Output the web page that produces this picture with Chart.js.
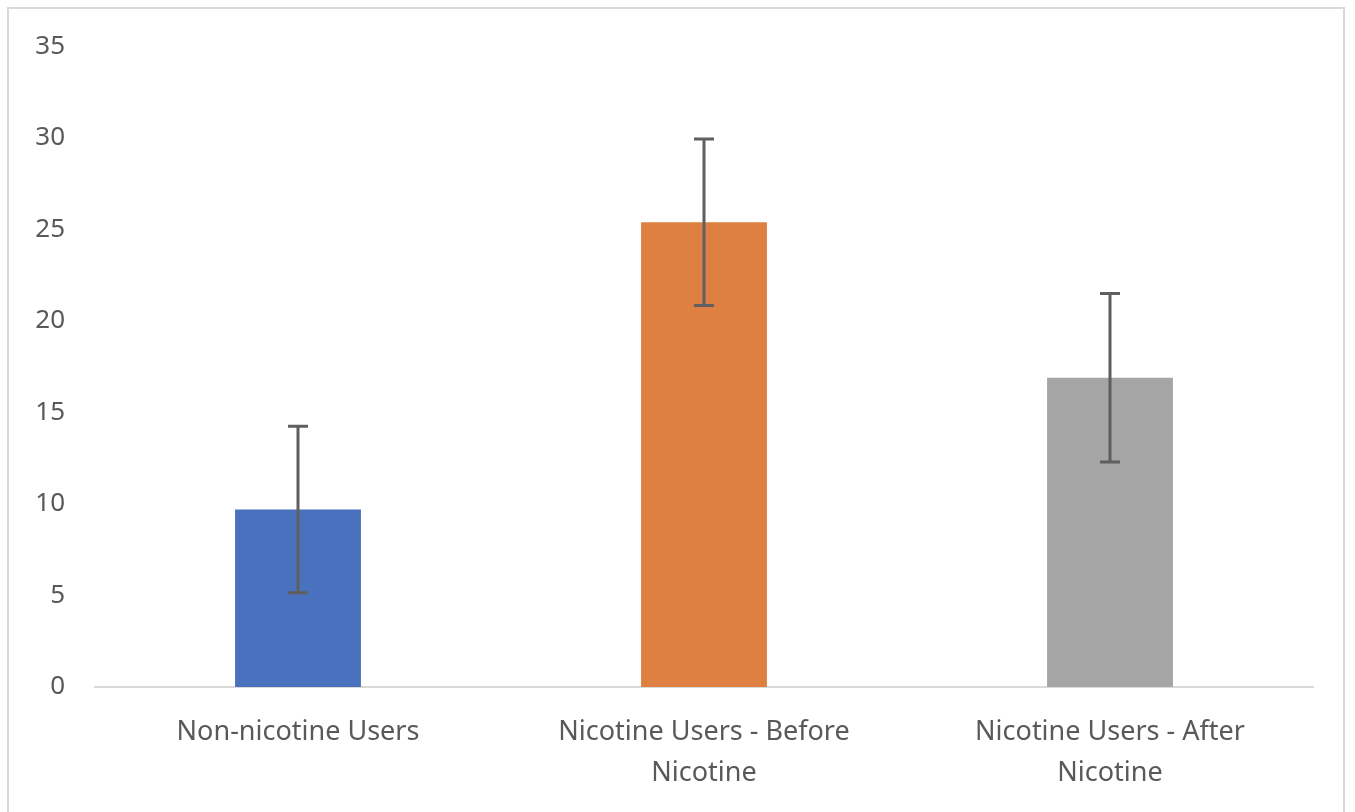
<!DOCTYPE html>
<html>
<head>
<meta charset="utf-8">
<script src="https://cdn.jsdelivr.net/npm/chart.js@4.4.1/dist/chart.umd.min.js"></script>
<style>
  html, body { margin: 0; padding: 0; background: #fff; overflow: hidden; }
  #box {
    position: absolute; left: 7px; top: 7px;
    width: 1334px; height: 803px;
    border: 2px solid #d9d9d9; border-bottom: none;
    background: #fff;
  }
</style>
</head>
<body>
<div id="box"><canvas id="chart"></canvas></div>
<script>
// data
const categories = [
  'Non-nicotine Users',
  ['Nicotine Users - Before', 'Nicotine'],
  ['Nicotine Users - After', 'Nicotine']
];
const means = [9.7, 25.4, 16.9];
const errors = [4.55, 4.55, 4.6];
const barColors = ['#4a71bd', '#de8041', '#a5a5a5'];

const FONT = "'Noto Sans', sans-serif";

// draws +/- error bars on top of the bars, positioned through the y scale
const errorBars = {
  id: 'errorBars',
  afterDatasetsDraw(chart) {
    const ctx = chart.ctx;
    const yScale = chart.scales.y;
    const meta = chart.getDatasetMeta(0);
    ctx.save();
    ctx.strokeStyle = '#5f5f5f';
    ctx.lineWidth = 3;
    meta.data.forEach((bar, i) => {
      let x = bar.x;
      let yTop = yScale.getPixelForValue(means[i] + errors[i]);
      let yBot = yScale.getPixelForValue(means[i] - errors[i]);
      ctx.beginPath();
      ctx.moveTo(x, yTop);
      ctx.lineTo(x, yBot);
      ctx.moveTo(x - 10, yTop);
      ctx.lineTo(x + 10, yTop);
      ctx.moveTo(x - 10, yBot);
      ctx.lineTo(x + 10, yBot);
      ctx.stroke();
    });
    ctx.restore();
  }
};

new Chart(document.getElementById('chart'), {
  type: 'bar',
  data: {
    labels: categories,
    datasets: [{
      data: means,
      backgroundColor: barColors,
      borderWidth: 0,
      barPercentage: 0.62,
      categoryPercentage: 0.5
    }]
  },
  options: {
    responsive: true,
    maintainAspectRatio: false,
    animation: false,
    layout: { padding: { top: 27, right: 30, left: 0, bottom: 0 } },
    plugins: {
      legend: { display: false },
      tooltip: { enabled: false }
    },
    scales: {
      x: {
        grid: { display: false },
        border: { display: true, color: '#d9d9d9', width: 2 },
        ticks: {
          color: '#595959',
          font: { family: FONT, size: 27, lineHeight: 1.52 },
          padding: 17,
          maxRotation: 0,
          autoSkip: false
        },
        afterFit(scale) { scale.height = 125; }
      },
      y: {
        min: 0,
        max: 35,
        grid: { display: false },
        border: { display: false },
        ticks: {
          stepSize: 5,
          color: '#595959',
          font: { family: FONT, size: 26 },
          padding: 22
        },
        afterFit(scale) { scale.width = 86; }
      }
    }
  },
  plugins: [errorBars]
});
</script>
</body>
</html>
